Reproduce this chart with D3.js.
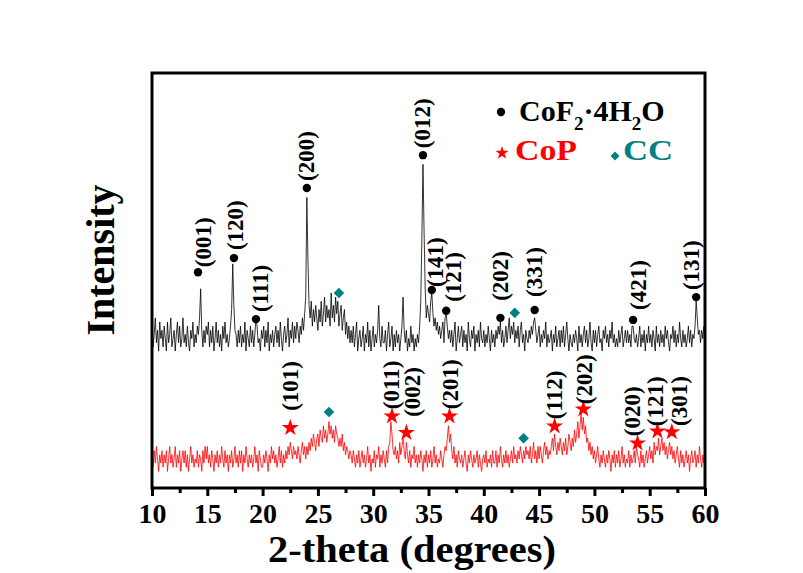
<!DOCTYPE html>
<html>
<head>
<meta charset="utf-8">
<script src="https://cdn.jsdelivr.net/npm/d3@7"></script>
<style>
  body { margin: 0; background: #fff; }
  text { font-family: "Liberation Serif", "Times New Roman", serif; font-weight: bold; }
</style>
</head>
<body>
<div id="scene"></div>
<script>
// 2-theta sampling: start at 10 deg, one value every 0.1 deg
var thetaStart = 10;
var thetaStep = 0.1;

// CoF2·4H2O pattern (black), one row per degree
var blackTrace = [
  39, 34, 37, 41, 35, 38, 33, 40, 36, 38,
  34, 39, 36, 33, 40, 35, 37, 41, 34, 36,
  38, 33, 37, 40, 35, 39, 34, 36, 41, 35,
  37, 34, 39, 35, 33, 38, 36, 40, 34, 37,
  35, 39, 37, 41, 48, 38, 34, 38, 35, 39,
  37, 40, 34, 38, 35, 39, 33, 36, 40, 35,
  38, 34, 37, 33, 39, 36, 40, 35, 37, 34,
  36, 39, 43, 54, 44, 38, 37, 34, 38, 35,
  39, 34, 37, 35, 40, 33, 38, 36, 34, 39,
  35, 38, 34, 37, 41, 39, 35, 36, 33, 38,
  36, 39, 34, 38, 35, 40, 33, 37, 35, 38,
  34, 37, 39, 35, 38, 34, 40, 36, 33, 37,
  39, 35, 37, 41, 34, 38, 36, 40, 35, 39,
  36, 40, 38, 35, 39, 37, 41, 38, 42, 46,
  70, 55, 44, 41, 45, 39, 43, 40, 44, 41,
  38, 43, 40, 45, 39, 42, 46, 40, 44, 41,
  43, 39, 47, 41, 44, 40, 46, 42, 45, 39,
  42, 44, 38, 41, 43, 37, 40, 36, 39, 35,
  38, 35, 39, 34, 37, 40, 33, 36, 38, 34,
  36, 39, 33, 37, 35, 40, 34, 38, 33, 36,
  39, 34, 37, 35, 38, 44, 36, 34, 39, 35,
  35, 38, 33, 37, 40, 34, 36, 39, 33, 37,
  34, 38, 35, 37, 33, 36, 39, 46, 38, 35,
  38, 33, 36, 34, 39, 35, 37, 33, 36, 34,
  37, 35, 39, 45, 60, 78, 62, 48, 41, 44,
  42, 40, 45, 47, 42, 39, 41, 38, 40, 37,
  39, 36, 38, 40, 35, 41, 42, 39, 36, 38,
  35, 38, 34, 37, 40, 33, 36, 39, 35, 37,
  39, 34, 38, 35, 37, 33, 40, 36, 34, 38,
  36, 39, 33, 37, 35, 38, 34, 40, 36, 35,
  38, 34, 37, 35, 39, 36, 33, 38, 35, 37,
  34, 38, 36, 39, 37, 40, 35, 38, 34, 36,
  39, 35, 38, 41, 36, 39, 37, 40, 35, 38,
  36, 39, 34, 38, 40, 35, 37, 33, 38, 36,
  35, 38, 36, 39, 37, 40, 41, 38, 35, 37,
  39, 34, 37, 35, 38, 36, 40, 34, 37, 35,
  36, 38, 33, 37, 35, 39, 34, 36, 38, 34,
  38, 35, 39, 34, 37, 40, 36, 33, 37, 35,
  34, 37, 35, 38, 36, 33, 39, 35, 37, 34,
  37, 39, 35, 38, 34, 36, 40, 35, 33, 38,
  35, 38, 34, 37, 39, 35, 36, 33, 38, 36,
  39, 35, 37, 34, 38, 36, 40, 35, 37, 34,
  36, 34, 38, 35, 37, 39, 34, 36, 38, 35,
  38, 35, 37, 34, 39, 39, 36, 35, 37, 34,
  36, 39, 34, 37, 35, 38, 33, 37, 35, 39,
  35, 37, 34, 38, 36, 33, 39, 35, 37, 34,
  38, 35, 37, 34, 39, 36, 38, 35, 33, 37,
  36, 39, 35, 38, 34, 37, 35, 40, 36, 34,
  38, 35, 37, 34, 36, 39, 35, 38, 34, 37,
  36, 39, 45, 41, 37, 38, 35, 38, 36, 39,
  37
];

// CoP pattern (red)
var redTrace = [
  8, 5, 9, 6, 10, 7, 4, 8, 6, 9,
  5, 8, 6, 9, 4, 7, 10, 6, 8, 5,
  7, 10, 5, 8, 6, 9, 4, 7, 9, 6,
  9, 5, 8, 4, 7, 10, 6, 8, 5, 7,
  6, 9, 5, 8, 7, 4, 9, 6, 10, 7,
  10, 6, 8, 5, 9, 7, 4, 8, 6, 9,
  5, 8, 6, 10, 7, 5, 9, 6, 8, 4,
  8, 6, 9, 5, 7, 10, 6, 8, 5, 9,
  6, 9, 4, 8, 6, 10, 7, 5, 8, 6,
  8, 5, 7, 10, 6, 8, 4, 9, 7, 5,
  5, 8, 6, 9, 7, 4, 8, 6, 10, 7,
  9, 6, 8, 5, 7, 10, 6, 9, 5, 8,
  6, 9, 7, 10, 8, 11, 9, 7, 10, 8,
  9, 7, 10, 8, 6, 9, 11, 8, 10, 7,
  10, 8, 11, 9, 12, 10, 13, 11, 9, 12,
  13, 10, 14, 12, 11, 15, 12, 14, 11, 13,
  16, 13, 15, 12, 14, 11, 15, 13, 12, 10,
  12, 10, 13, 9, 11, 8, 10, 9, 7, 9,
  8, 6, 9, 7, 5, 8, 6, 9, 5, 7,
  9, 6, 8, 5, 7, 10, 6, 8, 4, 7,
  6, 9, 5, 8, 7, 10, 5, 8, 6, 9,
  7, 5, 9, 6, 10, 11, 16, 13, 9, 8,
  10, 7, 9, 6, 11, 8, 10, 12, 9, 7,
  11, 8, 6, 9, 5, 8, 7, 10, 6, 8,
  5, 8, 6, 9, 7, 4, 8, 6, 9, 5,
  8, 6, 9, 5, 7, 10, 6, 8, 5, 7,
  6, 9, 7, 5, 8, 10, 9, 12, 15, 11,
  13, 9, 7, 10, 6, 8, 5, 9, 7, 6,
  8, 5, 7, 9, 6, 4, 8, 6, 9, 7,
  5, 8, 6, 7, 9, 5, 8, 6, 4, 7,
  8, 6, 9, 5, 7, 6, 8, 5, 9, 6,
  6, 9, 5, 8, 6, 10, 7, 5, 8, 6,
  9, 6, 8, 5, 7, 9, 6, 10, 7, 8,
  6, 9, 7, 10, 8, 6, 9, 7, 10, 8,
  9, 7, 10, 6, 8, 11, 7, 9, 6, 10,
  7, 10, 8, 6, 9, 11, 8, 10, 7, 9,
  8, 10, 12, 9, 13, 10, 8, 11, 9, 12,
  10, 8, 11, 9, 12, 8, 10, 13, 11, 9,
  12, 10, 14, 11, 13, 16, 12, 15, 18, 14,
  17, 13, 15, 11, 12, 9, 11, 8, 10, 7,
  9, 6, 8, 10, 7, 5, 8, 6, 9, 7,
  5, 8, 6, 9, 7, 4, 8, 6, 9, 5,
  8, 6, 9, 5, 7, 10, 6, 8, 5, 7,
  6, 9, 5, 8, 6, 7, 9, 6, 10, 8,
  7, 5, 9, 6, 8, 5, 7, 9, 6, 8,
  10, 7, 9, 6, 11, 8, 10, 9, 12, 8,
  10, 12, 9, 11, 8, 10, 7, 9, 11, 8,
  10, 7, 9, 6, 8, 10, 7, 5, 9, 6,
  8, 5, 7, 9, 6, 8, 4, 7, 9, 6,
  7, 9, 5, 8, 6, 10, 7, 5, 8, 6,
  7
];

// peak markers on the black pattern
var cofPeaks = [14.16, 17.41, 19.4, 24.0, 34.5, 35.3, 36.6, 41.5, 44.6, 53.5, 59.2];
var cofHeights = [52, 55.4, 40.7, 72.3, 80.2, 47.7, 42.7, 41, 42.9, 40.5, 46];
var cofLabels = ["(001)", "(120)", "(111)", "(200)", "(012)", "(141)", "(121)", "(202)", "(331)", "(421)", "(131)"];

// peak markers on the red pattern
var copPeaks = [22.5, 31.7, 33.0, 36.9, 46.4, 49.0, 53.9, 55.7, 57.0];
var copHeights = [14.5, 17.3, 13.3, 17.3, 14.9, 19, 10.8, 13.7, 13.5];
var copLabels = ["(101)", "(011)", "(002)", "(201)", "(112)", "(202)", "(020)", "(121)", "(301)"];

// carbon cloth markers
var ccPeaks = [26.9, 42.8, 26.0, 43.6];
var ccHeights = [47, 42.2, 18.3, 12];

var xTicks = [10, 15, 20, 25, 30, 35, 40, 45, 50, 55, 60];
var xMinorTicks = [12.5, 17.5, 22.5, 27.5, 32.5, 37.5, 42.5, 47.5, 52.5, 57.5];

// label nudges [dx, dy] in px, so overlapping labels sit like the original
var cofNudge = [[5, 2], [2, -1], [5, 0], [0, 0], [0, 0], [4, 4], [7, -2], [0, -10], [0, -6], [5, -3], [-5, 0]];
var copNudge = [[0, -8], [-1, 2], [6, -7], [1, 2], [0, 2], [1, 4], [-5, 2], [-2, 4], [8, 3]];

var ctx = { w: 803, h: 573, left: 152, right: 705, top: 73, bottom: 488 };
var colors = { cof: "#000000", cop: "#ff0000", cc: "#008080" };

var svg = d3.select("#scene").append("svg")
  .attr("width", ctx.w)
  .attr("height", ctx.h);

var x = d3.scaleLinear().domain([10, 60]).range([ctx.left, ctx.right]);
var y = d3.scaleLinear().domain([0, 100]).range([ctx.bottom, ctx.top]);

var line = d3.line()
  .x(function (d, i) { return x(thetaStart + i * thetaStep); })
  .y(function (d) { return y(d); });

svg.append("path")
  .datum(blackTrace)
  .attr("d", line)
  .attr("fill", "none")
  .attr("stroke", colors.cof)
  .attr("stroke-width", 0.8);

svg.append("path")
  .datum(redTrace)
  .attr("d", line)
  .attr("fill", "none")
  .attr("stroke", colors.cop)
  .attr("stroke-width", 0.8);

// frame
svg.append("rect")
  .attr("x", ctx.left)
  .attr("y", ctx.top)
  .attr("width", ctx.right - ctx.left)
  .attr("height", ctx.bottom - ctx.top)
  .attr("fill", "none")
  .attr("stroke", "#000")
  .attr("stroke-width", 3);

// bottom axis, major + minor ticks
var xAxis = svg.append("g")
  .attr("transform", "translate(0," + ctx.bottom + ")")
  .call(d3.axisBottom(x).tickValues(xTicks).tickSize(8).tickPadding(7).tickFormat(d3.format("d")));
xAxis.select(".domain").remove();
xAxis.selectAll(".tick line").attr("stroke-width", 3);
xAxis.selectAll(".tick text")
  .attr("fill", "#000")
  .style("font-size", "28px")
  .style("font-family", "'Liberation Serif', serif")
  .style("font-weight", "bold");

var xMinor = svg.append("g")
  .attr("transform", "translate(0," + ctx.bottom + ")")
  .call(d3.axisBottom(x).tickValues(xMinorTicks).tickSize(5).tickFormat(""));
xMinor.select(".domain").remove();
xMinor.selectAll(".tick line").attr("stroke-width", 3);

// axis titles
svg.append("text")
  .attr("x", 412)
  .attr("y", 562)
  .attr("text-anchor", "middle")
  .style("font-size", "38px")
  .attr("textLength", 288)
  .attr("lengthAdjust", "spacingAndGlyphs")
  .text("2-theta (degrees)");

svg.append("text")
  .attr("transform", "translate(114,260) rotate(-90)")
  .attr("text-anchor", "middle")
  .style("font-size", "40px")
  .text("Intensity");

// markers
svg.selectAll(".cofDot")
  .data(cofPeaks)
  .enter()
  .append("circle")
  .attr("class", "cofDot")
  .attr("cx", function (d) { return x(d); })
  .attr("cy", function (d, i) { return y(cofHeights[i]); })
  .attr("r", 4.2)
  .attr("fill", colors.cof);

svg.selectAll(".copStar")
  .data(copPeaks)
  .enter()
  .append("path")
  .attr("class", "copStar")
  .attr("d", d3.symbol().type(d3.symbolStar).size(90))
  .attr("transform", function (d, i) { return "translate(" + x(d) + "," + y(copHeights[i]) + ")"; })
  .attr("fill", colors.cop);

svg.selectAll(".ccMark")
  .data(ccPeaks)
  .enter()
  .append("path")
  .attr("class", "ccMark")
  .attr("d", d3.symbol().type(d3.symbolSquare).size(56))
  .attr("transform", function (d, i) { return "translate(" + x(d) + "," + y(ccHeights[i]) + ") rotate(45)"; })
  .attr("fill", colors.cc);

// hkl labels, vertical
var addLabels = function (peaks, heights, labels, nudge, gap) {
  for (var i = 0; i < peaks.length; i++) {
    svg.append("text")
      .attr("transform", "translate(" + (x(peaks[i]) + nudge[i][0]) + "," + (y(heights[i]) - gap + nudge[i][1]) + ") rotate(-90)")
      .attr("dominant-baseline", "central")
      .attr("text-anchor", "start")
      .style("font-size", "23px")
      .attr("fill", "#000")
      .text(labels[i]);
  }
}
addLabels(cofPeaks, cofHeights, cofLabels, cofNudge, 7);
addLabels(copPeaks, copHeights, copLabels, copNudge, 9);

// legend
var legend = svg.append("g");
legend.append("circle").attr("cx", 501).attr("cy", 112).attr("r", 4.2).attr("fill", colors.cof);
var lt = legend.append("text").attr("x", 519).attr("y", 121).style("font-size", "30px").attr("fill", colors.cof);
lt.append("tspan").text("CoF");
lt.append("tspan").attr("dy", 9).style("font-size", "19px").text("2");
lt.append("tspan").attr("dy", -9).text("·4H");
lt.append("tspan").attr("dy", 9).style("font-size", "19px").text("2");
lt.append("tspan").attr("dy", -9).text("O");

legend.append("path")
  .attr("d", d3.symbol().type(d3.symbolStar).size(55))
  .attr("transform", "translate(502,153)")
  .attr("fill", colors.cop);
legend.append("text").attr("x", 515).attr("y", 160).style("font-size", "29px")
  .attr("textLength", 62).attr("lengthAdjust", "spacingAndGlyphs")
  .attr("fill", colors.cop).text("CoP");

legend.append("path")
  .attr("d", d3.symbol().type(d3.symbolSquare).size(40))
  .attr("transform", "translate(615,156) rotate(45)")
  .attr("fill", colors.cc);
legend.append("text").attr("x", 623).attr("y", 160).style("font-size", "29px")
  .attr("textLength", 50).attr("lengthAdjust", "spacingAndGlyphs")
  .attr("fill", colors.cc).text("CC");
</script>
</body>
</html>
